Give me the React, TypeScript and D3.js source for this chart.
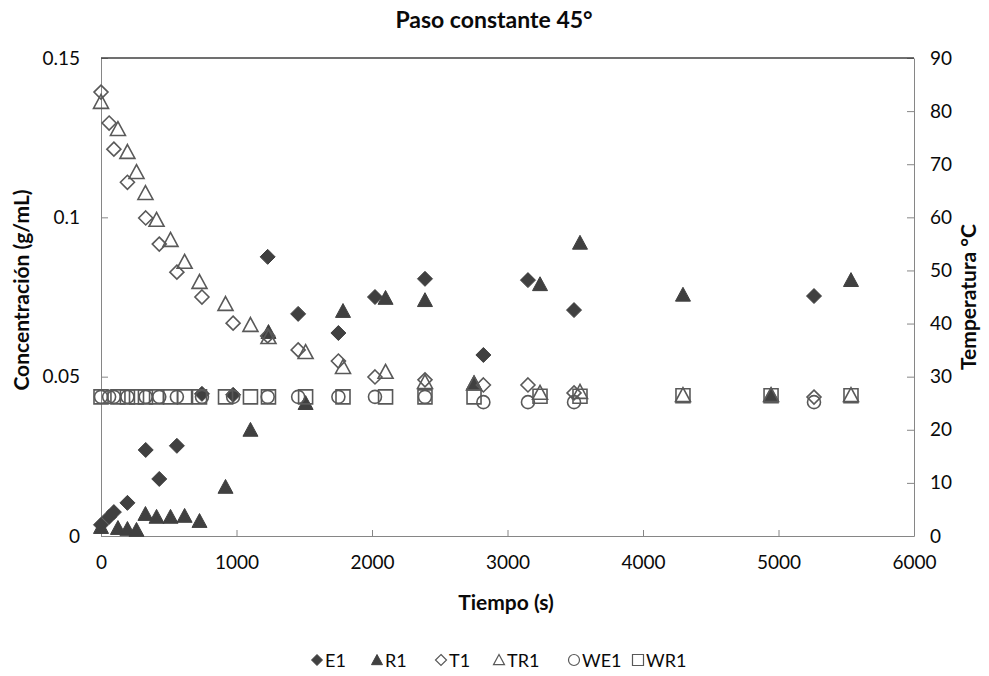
import * as d3 from "d3";
import React, { useEffect, useRef } from "react";

// tiempos (s) de muestreo
const tE = [0, 60, 95, 195, 330, 430, 560, 745, 975, 1230, 1455, 1752, 2022, 2391, 2822, 3151, 3491, 5262];
const tR = [0, 125, 195, 262, 328, 410, 513, 617, 727, 919, 1103, 1236, 1510, 1786, 2100, 2391, 2753, 3240, 3535, 4295, 4945, 5535];

// concentraciones (g/mL)
const E1 = [0.0035, 0.006, 0.0075, 0.0104, 0.027, 0.0179, 0.0283, 0.0446, 0.0443, 0.0876, 0.0697, 0.0637, 0.075, 0.0807, 0.0568, 0.0803, 0.0709, 0.0753];
const R1 = [0.0028, 0.0025, 0.0022, 0.0019, 0.0069, 0.006, 0.006, 0.0063, 0.0047, 0.0154, 0.0333, 0.064, 0.0417, 0.0706, 0.0747, 0.074, 0.048, 0.079, 0.092, 0.0757, 0.0442, 0.0803];
const T1 = [0.1393, 0.1296, 0.1214, 0.111, 0.0998, 0.0916, 0.0828, 0.075, 0.0668, 0.0628, 0.0584, 0.0549, 0.0499, 0.049, 0.0474, 0.0474, 0.0449, 0.0436];
const TR1 = [0.1362, 0.1277, 0.1205, 0.1142, 0.1076, 0.0992, 0.0929, 0.086, 0.0797, 0.0728, 0.0662, 0.0624, 0.0577, 0.053, 0.0515, 0.0483, 0.0478, 0.0449, 0.0452, 0.0442, 0.0442, 0.0442];

// temperaturas (°C), eje secundario
const WE1 = [26.2, 26.2, 26.2, 26.2, 26.2, 26.2, 26.2, 26.2, 26.2, 26.2, 26.2, 26.2, 26.2, 26.2, 25.2, 25.2, 25.2, 25.2];
const WR1 = [26.2, 26.2, 26.2, 26.2, 26.2, 26.2, 26.2, 26.2, 26.2, 26.2, 26.2, 26.2, 26.2, 26.2, 26.2, 26.2, 26.2, 26.3, 26.3, 26.4, 26.4, 26.4];

const xTicks = [0, 1000, 2000, 3000, 4000, 5000, 6000];
const yTicks = [0, 0.05, 0.1, 0.15];
const y2Ticks = [0, 10, 20, 30, 40, 50, 60, 70, 80, 90];

const FONT = "Lato, 'Open Sans', sans-serif";
const DARK = "#404040";
const OPEN = "#595959";
const INK = "#0a0a0a";

// marker shape paths centered on 0,0
const shape = (kind: string, s: number) => {
  const p = d3.path();
  const h = s / 2;
  if (kind === "diamond") {
    p.moveTo(0, -h); p.lineTo(h, 0); p.lineTo(0, h); p.lineTo(-h, 0); p.closePath();
  } else if (kind === "triangle") {
    p.moveTo(0, -h); p.lineTo(h, h * 0.85); p.lineTo(-h, h * 0.85); p.closePath();
  } else if (kind === "square") {
    p.rect(-h, -h, s, s);
  } else {
    p.arc(0, 0, h, 0, Math.PI * 2);
  }
  return p.toString();
};

export default function App() {
  const svgRef = useRef<SVGSVGElement>(null);
  useEffect(() => {
    const width = 989;
    const height = 676;
    const svg = d3.select(svgRef.current).attr("width", width).attr("height", height);
    svg.selectAll("*").remove();

    const left = 101, right = 914, top = 58, bottom = 536;
    const x = d3.scaleLinear().domain([0, 6000]).range([left, right]);
    const y = d3.scaleLinear().domain([0, 0.15]).range([bottom, top]);
    const y2 = d3.scaleLinear().domain([0, 90]).range([bottom, top]);

    // title
    svg.append("text").attr("x", 494).attr("y", 28).attr("text-anchor", "middle")
      .style("font", `bold 23px ${FONT}`).attr("fill", INK).text("Paso constante 45°");

    // axes (ticks inside)
    const styleAxis = (g: any) => {
      g.selectAll("path, line").attr("stroke", "#868686");
      g.selectAll("text").style("font", `19px ${FONT}`).attr("fill", INK);
    };
    svg.append("g").attr("transform", `translate(0,${bottom})`)
      .call(d3.axisBottom(x).tickValues(xTicks).tickFormat(d3.format("d")).tickSizeInner(-6).tickSizeOuter(0).tickPadding(20))
      .call(styleAxis);
    svg.append("g").attr("transform", `translate(${left},0)`)
      .call(d3.axisLeft(y).tickValues(yTicks).tickFormat((d: any) => (d === 0 ? "0" : String(d))).tickSizeInner(-7).tickSizeOuter(0).tickPadding(21))
      .call(styleAxis);
    svg.append("g").attr("transform", `translate(${right},0)`)
      .call(d3.axisRight(y2).tickValues(y2Ticks).tickSizeInner(-7).tickSizeOuter(0).tickPadding(16))
      .call(styleAxis);
    svg.append("line").attr("x1", left).attr("x2", right).attr("y1", top).attr("y2", top)
      .attr("stroke", DARK).attr("stroke-width", 1.5);

    // axis titles
    svg.append("text").attr("x", 506).attr("y", 610).attr("text-anchor", "middle")
      .style("font", `bold 21px ${FONT}`).attr("fill", INK).text("Tiempo (s)");
    svg.append("text").attr("transform", "translate(29,290) rotate(-90)").attr("text-anchor", "middle")
      .style("font", `bold 21px ${FONT}`).attr("fill", INK).text("Concentración (g/mL)");
    svg.append("text").attr("transform", "translate(976,297) rotate(-90)").attr("text-anchor", "middle")
      .style("font", `bold 21px ${FONT}`).attr("fill", INK).text("Temperatura °C");

    const series = [
      { name: "E1", t: tE, v: E1, kind: "diamond", filled: true, sc: y, size: 15 },
      { name: "R1", t: tR, v: R1, kind: "triangle", filled: true, sc: y, size: 15 },
      { name: "T1", t: tE, v: T1, kind: "diamond", filled: false, sc: y, size: 14 },
      { name: "TR1", t: tR, v: TR1, kind: "triangle", filled: false, sc: y, size: 15 },
      { name: "WE1", t: tE, v: WE1, kind: "circle", filled: false, sc: y2, size: 13 },
      { name: "WR1", t: tR, v: WR1, kind: "square", filled: false, sc: y2, size: 14 },
    ];

    const plot = svg.append("g");
    series.forEach((s) => {
      plot.append("g").selectAll("path").data(s.v).join("path")
        .attr("transform", (d, i) => `translate(${x(s.t[i])},${s.sc(d)})`)
        .attr("d", shape(s.kind, s.size))
        .attr("fill", s.filled ? DARK : "none")
        .attr("stroke", s.filled ? DARK : OPEN)
        .attr("stroke-width", s.filled ? 1 : 1.6);
    });

    // legend
    const legX = [317, 377, 441, 499, 574, 638];
    const leg = svg.append("g").attr("transform", "translate(0,660)");
    series.forEach((s, i) => {
      leg.append("path").attr("transform", `translate(${legX[i]},0)`)
        .attr("d", shape(s.kind, 11))
        .attr("fill", s.filled ? DARK : "none")
        .attr("stroke", s.filled ? DARK : OPEN)
        .attr("stroke-width", s.filled ? 1 : 1.2);
      leg.append("text").attr("x", legX[i] + 8).attr("y", 7)
        .style("font", `18px ${FONT}`).attr("fill", INK).text(s.name);
    });
  }, []);
  return <svg ref={svgRef} style={{ display: "block", position: "absolute", left: 0, top: 0 }}></svg>;
}
